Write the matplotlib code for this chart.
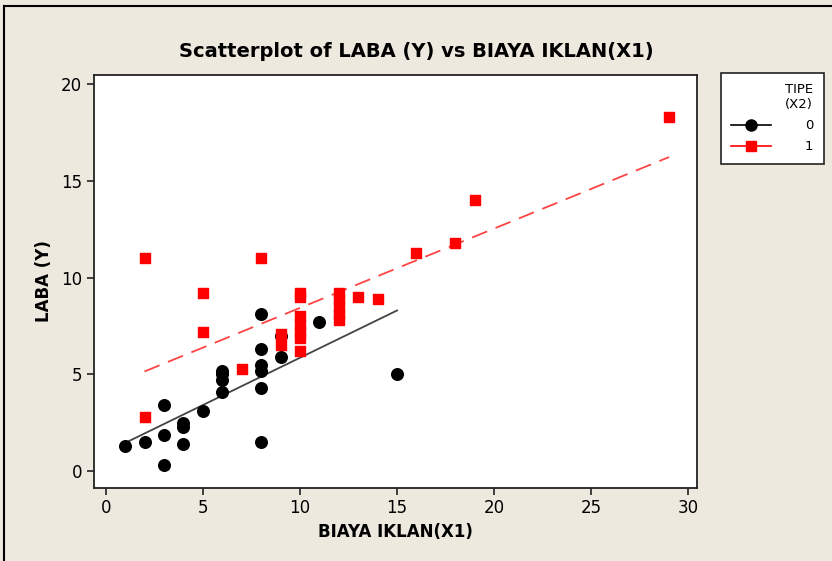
import numpy as np
import matplotlib.pyplot as plt
from matplotlib.lines import Line2D

# TIPE (X2) = 0
x0 = [1, 2, 3, 3, 3, 4, 4, 4, 5, 6, 6, 6, 6, 8, 8, 8, 8, 8, 8, 9, 9, 11, 15]
y0 = [1.3, 1.5, 0.3, 1.85, 3.4, 2.3, 2.5, 1.4, 3.1, 4.1, 4.7, 5.0, 5.2,
      8.1, 6.3, 5.5, 5.2, 4.3, 1.5, 5.9, 7.0, 7.7, 5.0]

# TIPE (X2) = 1
x1 = [2, 2, 5, 5, 7, 8, 9, 9, 10, 10, 10, 10, 10, 10, 10,
      12, 12, 12, 12, 12, 13, 14, 16, 18, 19, 29]
y1 = [11.0, 2.8, 9.2, 7.2, 5.3, 11.0, 7.1, 6.5, 9.2, 9.0, 8.0, 7.6, 7.2, 6.9, 6.2,
      9.2, 8.9, 8.5, 8.1, 7.8, 9.0, 8.9, 11.3, 11.8, 14.0, 18.3]

bg = '#EDE9DF'
fig = plt.figure(figsize=(8.32, 5.61), dpi=100, facecolor=bg)
ax = fig.add_axes([0.1130, 0.131, 0.725, 0.736])

ax.scatter(x0, y0, marker='o', s=70, color='black', zorder=3)
ax.scatter(x1, y1, marker='s', s=55, color='red', zorder=3)

# fitted lines
b0 = np.polyfit(x0, y0, 1)
xx0 = np.array([min(x0), max(x0)])
ax.plot(xx0, np.polyval(b0, xx0), color='#444444', lw=1.3, zorder=2)
b1 = np.polyfit(x1, y1, 1)
xx1 = np.array([min(x1), max(x1)])
ax.plot(xx1, np.polyval(b1, xx1), color='#FF4444', lw=1.3, ls=(0, (9, 5)), zorder=2)

ax.set_xlim(-0.6, 30.45)
ax.set_ylim(-0.85, 20.5)
ax.set_xticks([0, 5, 10, 15, 20, 25, 30])
ax.set_yticks([0, 5, 10, 15, 20])
ax.tick_params(direction='out', length=5, width=1.2, labelsize=12, color='#222222')
for s in ax.spines.values():
    s.set_linewidth(1.3)
    s.set_color('#222222')

fig.text(0.5, 0.908, 'Scatterplot of LABA (Y) vs BIAYA IKLAN(X1)', fontsize=14,
         fontweight='bold', ha='center', va='center')
ax.set_xlabel('BIAYA IKLAN(X1)', fontsize=12, fontweight='bold', labelpad=4)
ax.set_ylabel('LABA (Y)', fontsize=12, fontweight='bold', labelpad=6)

handles = [Line2D([], [], color='black', marker='o', markersize=8, lw=1.2),
           Line2D([], [], color='red', marker='s', markersize=7, lw=1.2)]
leg = fig.legend(handles, ['0', '1'], title='TIPE\n(X2)', loc='upper left',
                 bbox_to_anchor=(0.866, 0.870), borderaxespad=0, frameon=True,
                 fancybox=False, framealpha=1, facecolor='white',
                 edgecolor='#222222', fontsize=9.5, title_fontsize=9.5,
                 handlelength=3, handletextpad=2.6, borderpad=0.8,
                 labelspacing=0.6, alignment='right')
leg.get_frame().set_linewidth(1.2)

# outer frame lines (top and left)
fig.add_artist(Line2D([0.005, 1], [0.989, 0.989], color='black', lw=1.5))
fig.add_artist(Line2D([0.005, 0.005], [0, 0.989], color='black', lw=1.5))

fig.savefig('out.png', dpi=100, facecolor=bg)
